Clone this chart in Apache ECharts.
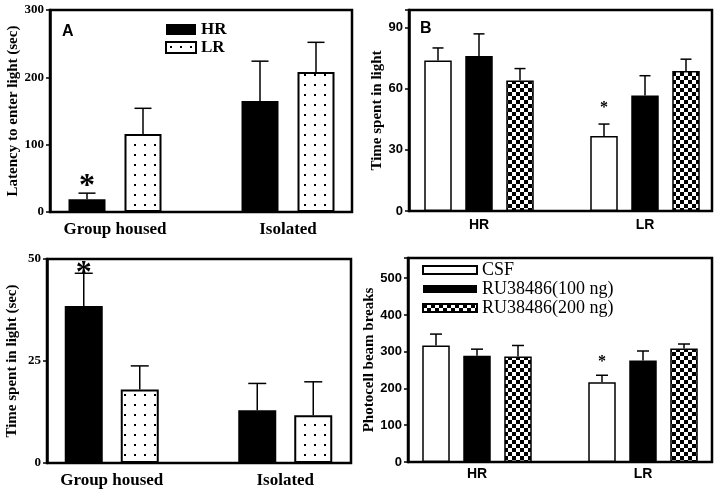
<!DOCTYPE html>
<html>
<head>
<meta charset="utf-8">
<script src="https://cdn.jsdelivr.net/npm/echarts@6/dist/echarts.min.js"></script>
<style>
html,body{margin:0;padding:0;background:#fff;}
#main{width:720px;height:493px;}
</style>
</head>
<body>
<div id="main"></div>
<script>
// ---------- DATA ----------
const housingCategories = ['Group housed', 'Isolated'];
const lineCategories = ['HR', 'LR'];

// Panel A: latency to enter light (sec)
const latencyHR = [19, 165];
const latencyHRsem = [9, 59];
const latencyHRstars = ['*', ''];
const latencyLR = [116, 208];
const latencyLRsem = [38, 44];
const latencyLRstars = ['', ''];

// Panel B: time spent in light
const timeCSF = [73.7, 36.7];
const timeCSFsem = [6.2, 5.9];
const timeCSFstars = ['', '*'];
const time100 = [76, 56.6];
const time100sem = [10.8, 9.7];
const time100stars = ['', ''];
const time200 = [63.9, 68.6];
const time200sem = [5.9, 5.8];
const time200stars = ['', ''];

// Panel C: time spent in light (sec)
const housedTimeHR = [38.5, 12.9];
const housedTimeHRsem = [8, 6.6];
const housedTimeHRstars = ['*', ''];
const housedTimeLR = [18, 11.7];
const housedTimeLRsem = [5.8, 8.2];
const housedTimeLRstars = ['', ''];

// Panel D: photocell beam breaks
const beamCSF = [317, 217];
const beamCSFsem = [31, 19];
const beamCSFstars = ['', '*'];
const beam100 = [289, 276];
const beam100sem = [18, 26];
const beam100stars = ['', ''];
const beam200 = [287, 309];
const beam200sem = [30, 12];
const beam200stars = ['', ''];

// ---------- PATTERNS ----------
function dotPattern() {
  const c = document.createElement('canvas');
  c.width = 10; c.height = 10;
  const g = c.getContext('2d');
  g.fillStyle = '#fff'; g.fillRect(0, 0, 10, 10);
  g.fillStyle = '#000'; g.fillRect(4, 4, 2, 2);
  return { image: c, repeat: 'repeat' };
}
function checkerPattern() {
  const c = document.createElement('canvas');
  c.width = 8; c.height = 8;
  const g = c.getContext('2d');
  g.fillStyle = '#fff'; g.fillRect(0, 0, 8, 8);
  g.fillStyle = '#000'; g.fillRect(0, 0, 4, 4); g.fillRect(4, 4, 4, 4);
  return { image: c, repeat: 'repeat' };
}
const SERIF = 'Liberation Serif';
const SANS = 'Liberation Sans';
const styleBlack = { color: '#000', borderColor: '#000', borderWidth: 0 };
const styleDots = { color: dotPattern(), borderColor: '#000', borderWidth: 2 };
const styleWhite = { color: '#fff', borderColor: '#000', borderWidth: 1.5 };
const styleChecker = { color: checkerPattern(), borderColor: '#000', borderWidth: 1.5 };

// ---------- BUILD ----------
const grids = [], xAxes = [], yAxes = [], series = [];

function addPanel(p) {
  const gFrame = grids.length;
  grids.push({ left: p.frame[0], top: p.frame[1], width: p.frame[2], height: p.frame[3],
    show: true, borderColor: '#000', borderWidth: 2.5, backgroundColor: 'transparent',
    outerBoundsMode: 'none', containLabel: false });
  const gData = grids.length;
  grids.push({ left: p.data[0], top: p.frame[1], width: p.data[1], height: p.frame[3],
    show: false, outerBoundsMode: 'none', containLabel: false });

  xAxes.push({ gridIndex: gFrame, type: 'category', data: [''], show: false });
  const xiData = xAxes.length;
  xAxes.push({ gridIndex: gData, type: 'category', data: p.categories,
    axisLine: { show: false }, axisTick: { show: false },
    axisLabel: { color: '#000', fontFamily: p.catFont, fontWeight: 'bold', fontSize: p.catSize, margin: p.catMargin } });

  yAxes.push({ gridIndex: gFrame, type: 'value', min: 0, max: p.yMax, interval: p.yInterval,
    axisLine: { show: true, lineStyle: { color: '#000', width: 2.5 } },
    axisTick: { show: true, length: 4, lineStyle: { color: '#000', width: 1.5 } },
    splitLine: { show: false },
    axisLabel: { color: '#000', fontFamily: p.tickFont, fontWeight: 'bold', fontSize: p.tickSize, margin: 6,
      formatter: v => (Math.abs(v / p.yInterval - Math.round(v / p.yInterval)) < 1e-6 ? String(v) : '') },
    name: p.yName, nameLocation: 'middle', nameGap: p.nameGap,
    nameTextStyle: { color: '#000', fontFamily: SERIF, fontWeight: 'bold', fontSize: 15 } });
  const yiData = yAxes.length;
  yAxes.push({ gridIndex: gData, type: 'value', min: 0, max: p.yMax, show: false });

  const n = p.series.length;
  p.series.forEach((s, i) => {
    series.push({ type: 'bar', name: s.name, xAxisIndex: xiData, yAxisIndex: yiData,
      data: s.values, barWidth: p.barW, barGap: (p.gapPx / p.barW * 100) + '%',
      itemStyle: s.style, z: 3, silent: true });
    const offset = (i - (n - 1) / 2) * (p.barW + p.gapPx);
    series.push({ type: 'custom', xAxisIndex: xiData, yAxisIndex: yiData, z: 4, silent: true,
      data: s.values.map((v, k) => [k, v, s.sems[k]]),
      renderItem: function (params, api) {
        const c = api.value(0), v = api.value(1), e = api.value(2);
        const base = api.coord([c, v]);
        const top = api.coord([c, v + e]);
        const x = base[0] + offset;
        const children = [
          { type: 'line', shape: { x1: x, y1: base[1], x2: x, y2: top[1] }, style: { stroke: '#000', lineWidth: 1.5 } },
          { type: 'line', shape: { x1: x - p.capHalf, y1: top[1], x2: x + p.capHalf, y2: top[1] }, style: { stroke: '#000', lineWidth: 1.5 } }
        ];
        const star = s.stars[params.dataIndex];
        if (star) {
          children.push({ type: 'text', x: x, y: top[1] - p.starLift,
            style: { text: star, fill: '#000', font: 'bold ' + p.starSize + 'px "' + SERIF + '"', align: 'center', verticalAlign: 'middle' } });
        }
        return { type: 'group', children: children };
      } });
  });
}

addPanel({ frame: [50, 10, 302, 202], data: [28.5, 346], categories: housingCategories,
  catFont: SERIF, catSize: 17, catMargin: 9, yMax: 300, yInterval: 100, tickFont: SERIF, tickSize: 13,
  yName: 'Latency to enter light (sec)', nameGap: 29, barW: 37, gapPx: 19, capHalf: 8.5, starLift: 6, starSize: 32,
  series: [
    { name: 'HR', values: latencyHR, sems: latencyHRsem, stars: latencyHRstars, style: styleBlack },
    { name: 'LR', values: latencyLR, sems: latencyLRsem, stars: latencyLRstars, style: styleDots }
  ] });

addPanel({ frame: [409, 10, 303, 201], data: [396, 332], categories: lineCategories,
  catFont: SANS, catSize: 14, catMargin: 7, yMax: 98.5, yInterval: 30, tickFont: SANS, tickSize: 13,
  yName: 'Time spent in light', nameGap: 24, barW: 27.5, gapPx: 13.5, capHalf: 5.5, starLift: 16, starSize: 16,
  series: [
    { name: 'CSF', values: timeCSF, sems: timeCSFsem, stars: timeCSFstars, style: styleWhite },
    { name: 'RU38486(100 ng)', values: time100, sems: time100sem, stars: time100stars, style: styleBlack },
    { name: 'RU38486(200 ng)', values: time200, sems: time200sem, stars: time200stars, style: styleChecker }
  ] });

addPanel({ frame: [47, 259, 304, 204], data: [25, 347], categories: housingCategories,
  catFont: SERIF, catSize: 17, catMargin: 9, yMax: 50, yInterval: 25, tickFont: SERIF, tickSize: 13,
  yName: 'Time spent in light (sec)', nameGap: 27, barW: 38, gapPx: 18, capHalf: 9, starLift: 0, starSize: 32,
  series: [
    { name: 'HR', values: housedTimeHR, sems: housedTimeHRsem, stars: housedTimeHRstars, style: styleBlack },
    { name: 'LR', values: housedTimeLR, sems: housedTimeLRsem, stars: housedTimeLRstars, style: styleDots }
  ] });

addPanel({ frame: [408, 258, 304, 204], data: [394, 332], categories: lineCategories,
  catFont: SANS, catSize: 14, catMargin: 5, yMax: 555, yInterval: 100, tickFont: SANS, tickSize: 13,
  yName: 'Photocell beam breaks', nameGap: 30, barW: 27.5, gapPx: 13.5, capHalf: 6, starLift: 13, starSize: 16,
  series: [
    { name: 'CSF', values: beamCSF, sems: beamCSFsem, stars: beamCSFstars, style: styleWhite },
    { name: 'RU38486(100 ng)', values: beam100, sems: beam100sem, stars: beam100stars, style: styleBlack },
    { name: 'RU38486(200 ng)', values: beam200, sems: beam200sem, stars: beam200stars, style: styleChecker }
  ] });

const option = {
  animation: false,
  backgroundColor: '#fff',
  title: [
    { text: 'A', left: 62, top: 24, padding: 0, textStyle: { fontFamily: SANS, fontWeight: 'bold', fontSize: 16, color: '#000' } },
    { text: 'B', left: 420, top: 21, padding: 0, textStyle: { fontFamily: SANS, fontWeight: 'bold', fontSize: 16, color: '#000' } }
  ],
  legend: [
    { data: ['HR', 'LR'], left: 165, top: 21, orient: 'vertical', icon: 'rect', itemWidth: 30, itemHeight: 11,
      itemGap: 1, selectedMode: false, padding: 0,
      textStyle: { fontFamily: SERIF, fontWeight: 'bold', fontSize: 17, color: '#000' } },
    { data: ['CSF', 'RU38486(100 ng)', 'RU38486(200 ng)'], left: 422, top: 261, orient: 'vertical', icon: 'rect',
      itemWidth: 54, itemHeight: 8, itemGap: 1, selectedMode: false, padding: 0,
      textStyle: { fontFamily: SERIF, fontSize: 18, color: '#000' } }
  ],
  grid: grids,
  xAxis: xAxes,
  yAxis: yAxes,
  series: series
};
const chart = echarts.init(document.getElementById('main'), null, { renderer: 'canvas' });
chart.setOption(option);
</script>
</body>
</html>
